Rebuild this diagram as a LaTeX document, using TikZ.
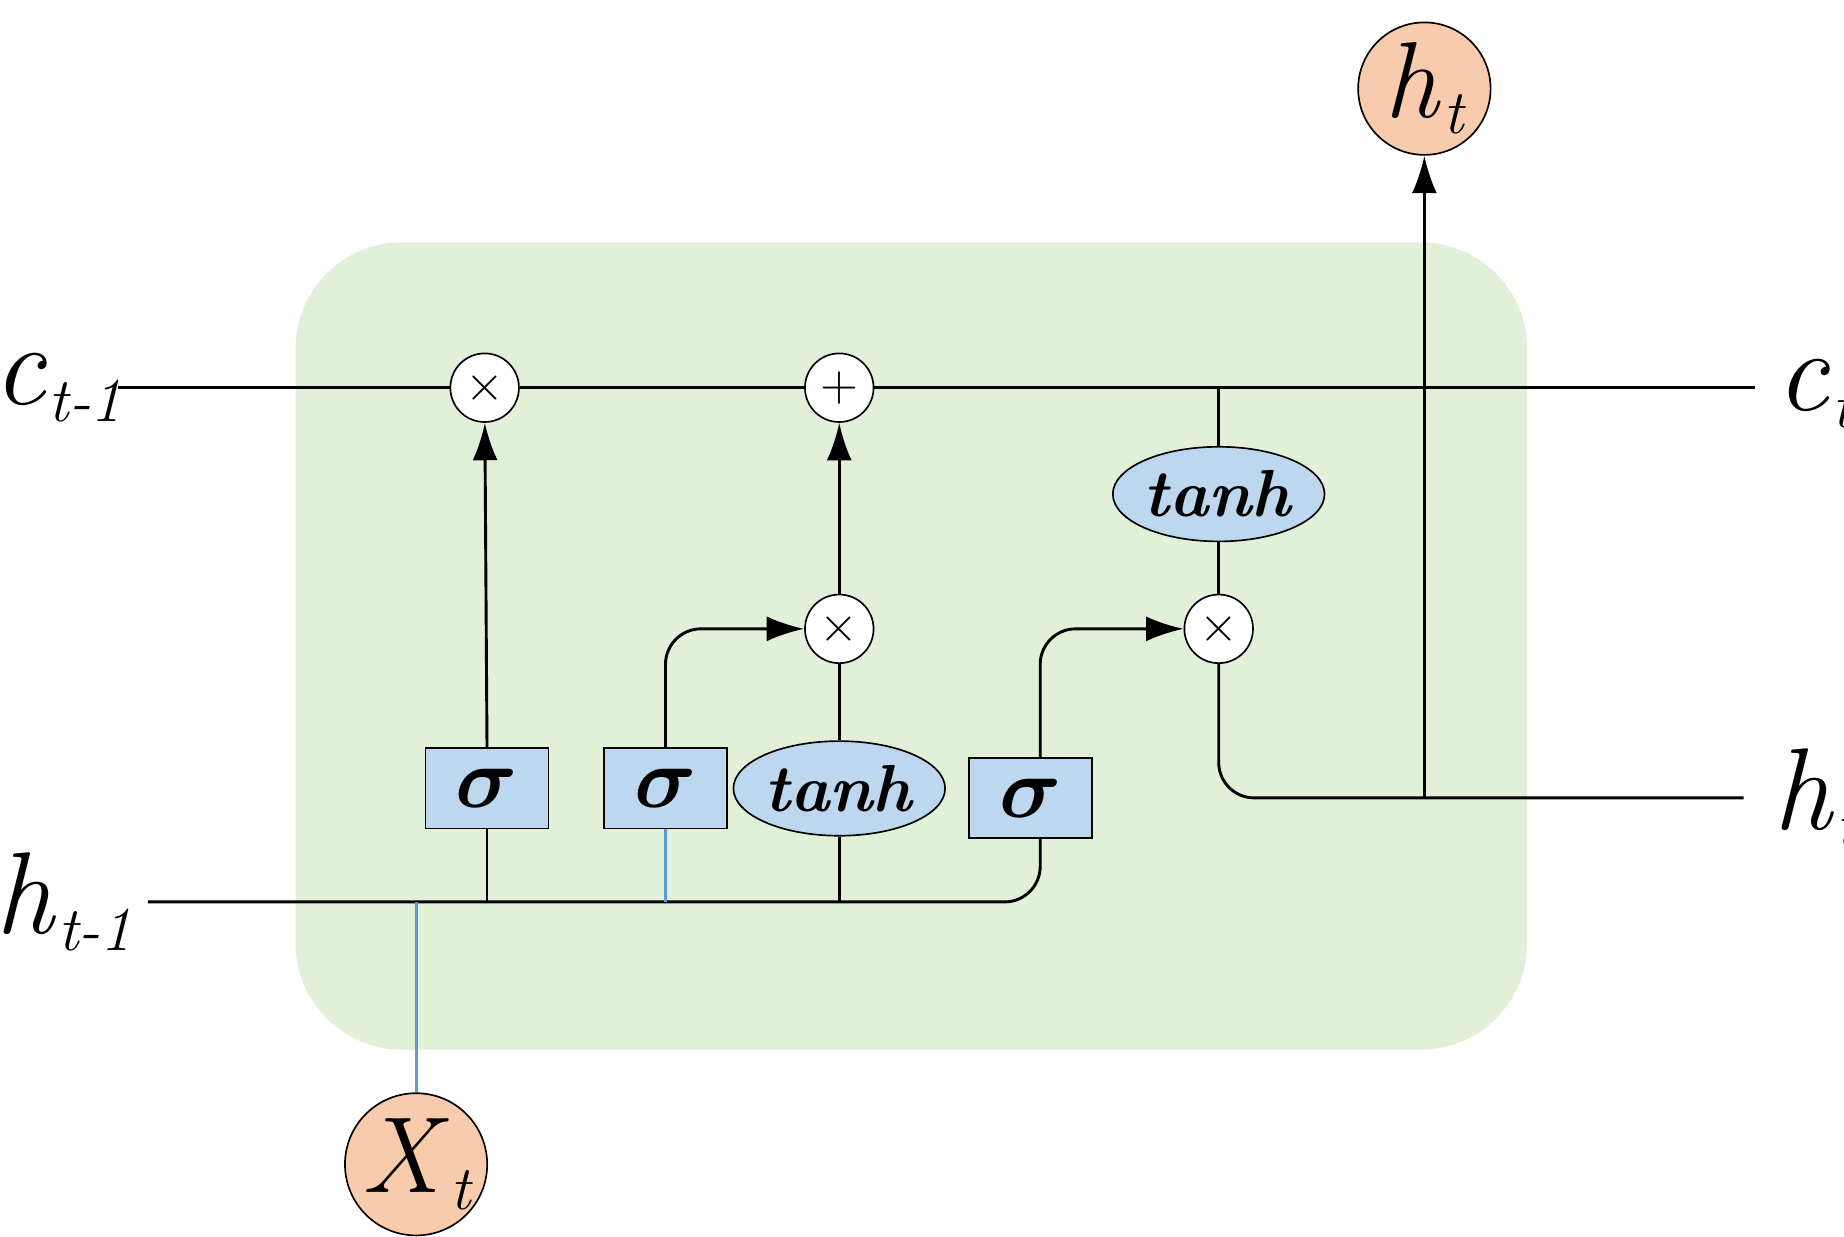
\documentclass[tikz,border=0pt]{standalone}
\usepackage{amsmath,bm}
\usetikzlibrary{arrows.meta,shapes.geometric}
\definecolor{cellg}{HTML}{E2EFD9}
\definecolor{boxb}{HTML}{BDD7EE}
\definecolor{lineb}{HTML}{5B9BD5}
\definecolor{org}{HTML}{F8CBAD}
\newcommand{\mysub}[2]{\textit{#1}\kern0.5pt\raisebox{-0.35ex}{\fontsize{15}{17}\selectfont\itshape #2}}
\begin{document}
\begin{tikzpicture}[x=0.01cm,y=-0.01cm,
  op/.style={circle,draw,fill=white,minimum size=0.58cm,inner sep=0pt,font=\fontsize{13}{15}\selectfont},
  sig/.style={draw,fill=boxb,minimum width=1.04cm,minimum height=0.68cm,inner sep=0pt,font=\fontsize{22}{24}\selectfont},
  th/.style={ellipse,draw,fill=boxb,minimum width=1.6cm,minimum height=0.8cm,inner sep=0pt,font=\fontsize{16}{20}\selectfont},
  io/.style={circle,draw,fill=org,inner sep=0pt,font=\fontsize{26}{28}\selectfont},
  lab/.style={inner sep=0pt,font=\fontsize{28}{30}\selectfont},
  ln/.style={line width=0.7pt},
  arr/.style={ln,-{Latex[length=9pt,width=6pt]}},
  rc/.style={rounded corners=0.3cm}]
\useasboundingbox (0,0) rectangle (1560,1046);
\fill[cellg,rounded corners=0.9cm] (250,205) rectangle (1292,888);
% nodes
\node[op] (m1) at (410,328) {$\times$};
\node[op] (pl) at (710,328) {$+$};
\node[op] (m2) at (710,532) {$\times$};
\node[op] (m3) at (1031,532) {$\times$};
\node[sig] (s1) at (412,667) {$\bm{\sigma}$};
\node[sig] (s2) at (563,667) {$\bm{\sigma}$};
\node[sig] (s3) at (872,675) {$\bm{\sigma}$};
\node[th] (t1) at (710,667) {\textbf{\textit{tanh}}};
\node[th] (t2) at (1031,418) {\textbf{\textit{tanh}}};
\node[io,minimum size=1.12cm] (ho) at (1205,75) {\mysub{h}{t}};
\node[io,minimum size=1.04cm] (xt) at (352,985) {\mysub{X}{t}};
\node[lab,anchor=east] (cl) at (104,328) {\mysub{c}{t-1}};
\node[lab,anchor=west] (cr) at (1502,333) {\mysub{c}{t}};
\node[lab,anchor=east] (hl) at (112,763) {\mysub{h}{t-1}};
\node[lab,anchor=west] (hr) at (1500,675) {\mysub{h}{t}};
\coordinate (ce0) at (100,328);
\coordinate (ce1) at (1485,328);
\coordinate (h0) at (125,763);
\coordinate (hre) at (1475,675);
% cell line
\draw[ln] (ce0) -- (m1) -- (pl) -- (ce1);
% hidden in
\draw[ln,rc] (h0) -- (880,763) -- (880,709);
\draw[ln] (412,763) -- (s1.south);
\draw[arr] (s1.north) -- (m1);
\draw[lineb,line width=0.7pt] (563,763) -- (s2.south);
\draw[arr,rc] (s2.north) -- (563,532) -- (m2);
\draw[ln] (710,763) -- (t1.south);
\draw[ln] (t1.north) -- (m2);
\draw[arr] (m2) -- (pl);
\draw[arr,rc] (880,641) -- (880,532) -- (m3);
\draw[ln] (1031,328) -- (t2);
\draw[ln] (t2) -- (m3);
\draw[ln,rc] (m3) -- (1031,675) -- (hre);
\draw[arr] (1205,675) -- (ho);
\draw[lineb,line width=0.7pt] (352,763) -- (xt);
\end{tikzpicture}
\end{document}
